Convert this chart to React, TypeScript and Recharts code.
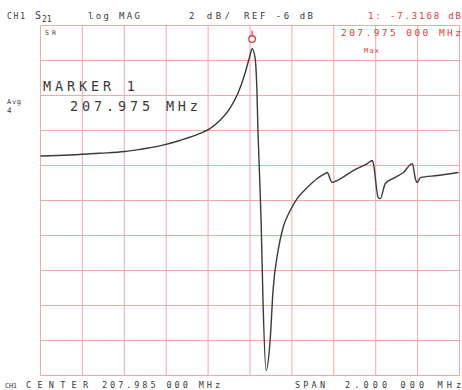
import React from "react";
import { LineChart, Line, XAxis, YAxis, CartesianGrid, ReferenceDot } from "recharts";

// Frequency (MHz) of each trace point
const freqs = [
  206.985, 207.124, 207.267, 207.387, 207.459, 207.554, 207.65, 207.746, 207.794,
  207.841, 207.889, 207.927, 207.961, 207.985, 207.995, 208.009, 208.018, 208.023,
  208.028, 208.038, 208.047, 208.062, 208.081, 208.095, 208.119, 208.143, 208.177,
  208.21, 208.258, 208.306, 208.344, 208.353, 208.377, 208.401, 208.478, 208.545,
  208.569, 208.574, 208.597, 208.607, 208.631, 208.669, 208.717, 208.76, 208.774,
  208.784, 208.798, 208.88, 208.98,
];
// S21 log magnitude (dB)
const s21 = [
  -13.46, -13.4, -13.3, -13.2, -13.08, -12.88, -12.57, -12.17, -11.89,
  -11.43, -10.74, -9.89, -8.74, -7.71, -7.32, -7.83, -9.71, -12.0,
  -13.71, -17.14, -21.71, -25.71, -24.0, -21.14, -18.86, -17.54, -16.57,
  -15.89, -15.26, -14.74, -14.46, -14.4, -14.97, -14.86, -14.29, -13.89,
  -13.71, -13.89, -15.83, -15.89, -15.03, -14.74, -14.4, -13.89, -14.74,
  -14.97, -14.69, -14.57, -14.4,
];
const xTicks = [206.985, 207.185, 207.385, 207.585, 207.785, 207.985, 208.185, 208.385, 208.585, 208.785, 208.985];
const yTicks = [-26, -24, -22, -20, -18, -16, -14, -12, -10, -8, -6];
const markerF = 207.995;
const markerDb = -7.3168;

const data = freqs.map((f, i) => ({ f, db: s21[i] }));

const RED = "#e23a3a";
const INK = "#3a3a3a";
const MONO = "'DejaVu Sans Mono', 'Liberation Mono', monospace";

type TProps = { x: number; y: number; w?: number; size: number; color?: string; children: React.ReactNode };
const T = ({ x, y, w, size, color = INK, children }: TProps) => (
  <text
    x={x}
    y={y}
    fontSize={size}
    fill={color}
    fontFamily={MONO}
    textLength={w}
    lengthAdjust={w ? "spacing" : undefined}
  >
    {children}
  </text>
);

const MarkerShape = (props: any) => {
  const { cx, cy } = props;
  if (cx == null || cy == null) return null;
  return (
    <g>
      <line x1={cx} y1={cy - 18} x2={cx} y2={cy - 13} stroke={RED} strokeWidth={1.2} />
      <circle cx={cx} cy={cy - 9.5} r={3.3} fill="#fff" stroke={RED} strokeWidth={1.3} />
    </g>
  );
};

export default function App() {
  return (
    <div style={{ position: "absolute", left: 0, top: 0, width: 462, height: 390, background: "#fff" }}>
      <LineChart width={462} height={390} data={data} margin={{ top: 25.5, right: 2.5, bottom: 14.5, left: 40.5 }}>
        <CartesianGrid stroke="#f3a8a8" strokeWidth={1} />
        <XAxis type="number" dataKey="f" domain={[206.985, 208.985]} ticks={xTicks} interval={0} hide />
        <YAxis type="number" domain={[-26, -6]} ticks={yTicks} interval={0} hide />
        <Line
          type="monotone"
          dataKey="db"
          stroke={INK}
          strokeWidth={1.4}
          dot={false}
          isAnimationActive={false}
        />
        <ReferenceDot x={markerF} y={markerDb} r={0} shape={MarkerShape} />
      </LineChart>
      <svg width={462} height={390} style={{ position: "absolute", left: 0, top: 0, pointerEvents: "none" }}>
        <T x={7} y={19} w={18} size={8}>CH1</T>
        <T x={35} y={19} size={10}>S</T>
        <T x={42} y={22} size={8}>21</T>
        <T x={88} y={19} w={52} size={9}>log MAG</T>
        <T x={189} y={19} w={41} size={9}>2 dB/</T>
        <T x={244} y={19} w={69} size={9}>REF -6 dB</T>
        <T x={368} y={19} w={93} size={9} color={RED}>1: -7.3168 dB</T>
        <rect x={44} y={28} width={13} height={7} fill="#fff" />
        <T x={45} y={34.5} w={11} size={6.5}>SR</T>
        <T x={341} y={36} w={120} size={9.5} color={RED}>207.975 000 MHz</T>
        <T x={364} y={53} w={15} size={7} color={RED}>Max</T>
        <T x={43} y={91} w={92} size={13.5}>MARKER 1</T>
        <T x={70} y={111} w={128} size={13.5}>207.975 MHz</T>
        <T x={7} y={104} w={14} size={7}>Avg</T>
        <T x={7} y={113} size={7.5}>4</T>
        <T x={5} y={388} w={12} size={7}>CH1</T>
        <T x={26} y={388} w={62} size={8.5}>CENTER</T>
        <T x={102} y={388} w={118} size={8.5}>207.985 000 MHz</T>
        <T x={295} y={388} w={30} size={8.5}>SPAN</T>
        <T x={345} y={388} w={116} size={8.5}>2.000 000 MHz</T>
      </svg>
    </div>
  );
}
